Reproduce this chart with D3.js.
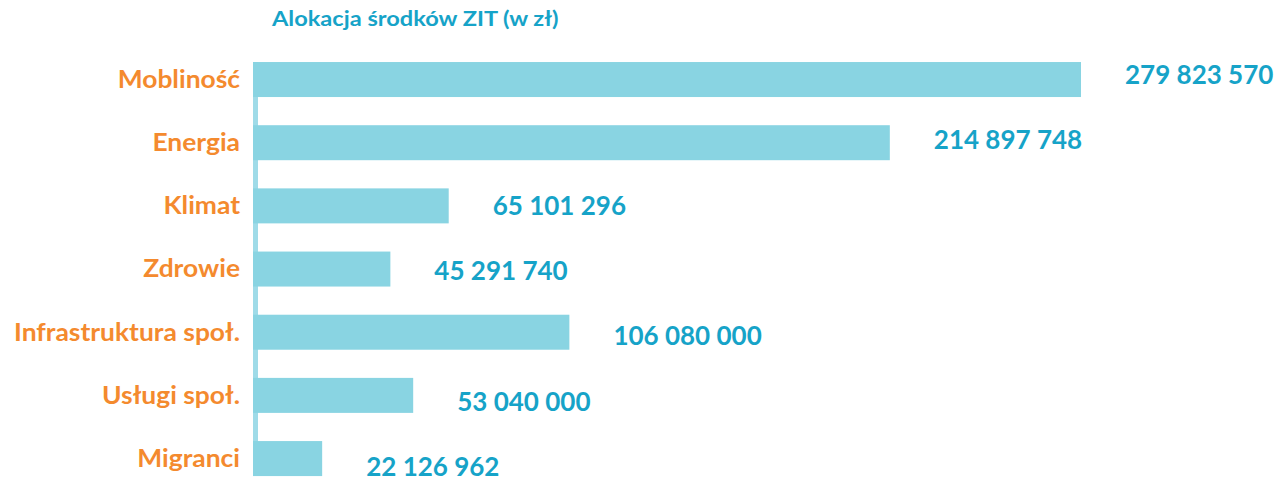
<!DOCTYPE html>
<html>
<head>
<meta charset="utf-8">
<script src="https://cdn.jsdelivr.net/npm/d3@7"></script>
<style>
  body { margin: 0; background: #fff; }
  text { font-family: Lato, "Open Sans", sans-serif; font-weight: 700; }
</style>
</head>
<body>
<div id="chart"></div>
<script>
// Data
var categories = ["Mobliność", "Energia", "Klimat", "Zdrowie", "Infrastruktura społ.", "Usługi społ.", "Migranci"];
var values = [279823570, 214897748, 65101296, 45291740, 106080000, 53040000, 22126962];
var title = "Alokacja środków ZIT (w zł)";

var W = 1280, H = 479;
var svg = d3.select("#chart").append("svg")
    .attr("width", W)
    .attr("height", H);

// scales
var x = d3.scaleLinear()
    .domain([0, d3.max(values)])
    .range([257, 1081]);

var y = d3.scaleBand()
    .domain(categories)
    .range([49.4, 488.7])
    .paddingInner(0.446)
    .paddingOuter(0.2);

// value labels drift a little lower than the bars in the original
var yLabel = d3.scalePoint()
    .domain(categories)
    .range([75, 467]);

var fmt = function(v) {
    return d3.format(",")(v).replace(/,/g, " ");
};

// title (the original font is a bit wider than Lato, so stretch it)
svg.append("text")
    .attr("transform", "translate(272,26) scale(1.18,1)")
    .attr("fill", "#16a3c8")
    .style("font-size", "20px")
    .text(title);

// vertical axis line
svg.append("rect")
    .attr("x", x(0) - 4)
    .attr("y", y(categories[0]))
    .attr("width", 5)
    .attr("height", y(categories[categories.length - 1]) + 18 - y(categories[0]))
    .attr("fill", "#9fdbe8");

// bars
svg.append("g").selectAll("rect")
    .data(categories)
    .enter()
    .append("rect")
    .attr("x", x(0) - 4)
    .attr("y", function(d) { return y(d); })
    .attr("width", function(d, i) { return x(values[i]) - x(0) + 4; })
    .attr("height", y.bandwidth())
    .attr("fill", "#89d4e2");

// category labels
svg.append("g").selectAll("text")
    .data(categories)
    .enter()
    .append("text")
    .attr("transform", function(d) {
        return "translate(240," + (y(d) + y.bandwidth() / 2) + ") scale(1.1,1)";
    })
    .attr("dy", "0.35em")
    .attr("text-anchor", "end")
    .attr("fill", "#f48a2e")
    .style("font-size", "24px")
    .text(function(d) { return d; });

// value labels
svg.append("g").selectAll("text")
    .data(categories)
    .enter()
    .append("text")
    .attr("x", function(d, i) { return x(values[i]) + 44; })
    .attr("y", function(d) { return yLabel(d); })
    .attr("dy", "0.35em")
    .attr("fill", "#16a3c8")
    .style("font-size", "26px")
    .text(function(d, i) { return fmt(values[i]); });
</script>
</body>
</html>
